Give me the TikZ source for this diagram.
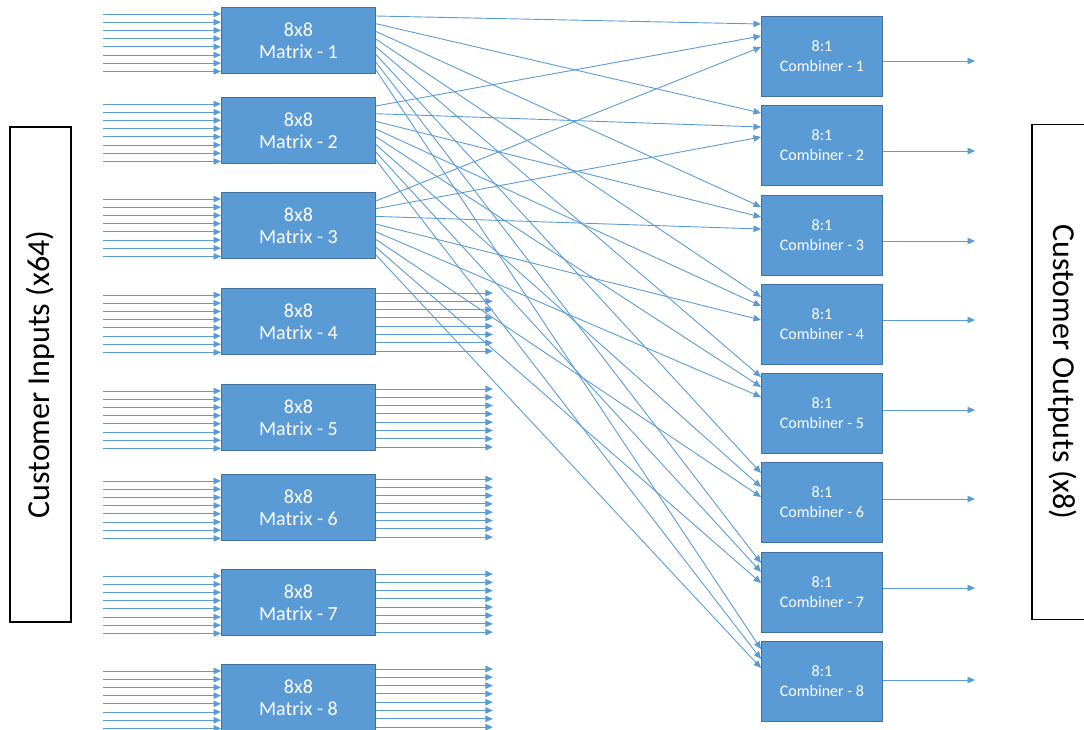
\documentclass[tikz,border=0pt]{standalone}
\usepackage{fontspec}
\setmainfont{Carlito}
\usetikzlibrary{arrows.meta,calc}
\definecolor{boxblue}{HTML}{5B9BD5}
\definecolor{boxedge}{HTML}{41719C}
\tikzset{
  matrixbox/.style={rectangle, fill=boxblue, draw=boxedge, line width=0.9pt, minimum width=154pt, minimum height=66pt, inner sep=0pt, text=white, align=center, font=\fontsize{20}{22}\selectfont, anchor=north west},
  combbox/.style={rectangle, fill=boxblue, draw=boxedge, line width=0.9pt, minimum width=121pt, minimum height=80pt, inner sep=0pt, text=white, align=center, font=\fontsize{16}{20}\selectfont, anchor=north west},
  labelbox/.style={rectangle, draw=black, line width=1.8pt, fill=white, minimum width=495pt, minimum height=61pt, inner sep=0pt, font=\fontsize{32}{38}\selectfont},
  conn/.style={draw=boxblue, line width=0.9pt, -{Triangle[length=7.5pt,width=6.5pt]}}
}
\begin{document}
\begin{tikzpicture}[x=1pt,y=-1pt]
\useasboundingbox (0,0) rectangle (1084,729);
\clip (0,0) rectangle (1084,729);
% side labels
\node[labelbox, rotate=90] (inlab) at (40.5,374.5) {Customer Inputs (x64)};
\node[labelbox, rotate=-90] (outlab) at (1062.5,372) {Customer Outputs (x8)};
% matrices
\foreach \t [count=\m] in {7,97,192,288,384,474,569,664}
  \node[matrixbox] (M\m) at (221,\t) {8x8\\Matrix - \m};
% combiners
\foreach \t [count=\c] in {16,105,195,284,373,462,552,641}
  \node[combbox] (C\c) at (761,\t) {8:1\\Combiner - \c};
% inputs
\foreach \m in {1,...,8}
  \foreach \i in {0,...,7} {
    \coordinate (in\m\i) at ($(M\m.north west)+(-118,{7+8.2*\i})$);
    \draw[conn] (in\m\i) -- (in\m\i -| M\m.west);
  }
% output stubs of matrices 4-8
\foreach \m in {4,...,8}
  \foreach \i in {0,...,7} {
    \coordinate (so\m\i) at ($(M\m.north east)+(117,{5+8.3*\i})$);
    \draw[conn] (so\m\i -| M\m.east) -- (so\m\i);
  }
% matrices 1-3 to combiners
\def\offarr{{8,20,31, 8,22,32, 12,22,34, 13,22,36, 4,14,24, 11,25,35, 11,20,31, 8,18,27}}
\foreach \m in {1,2,3}
  \foreach \i in {1,...,8} {
    \pgfmathtruncatemacro\idx{3*(\i-1)+\m-1}
    \pgfmathsetmacro\off{\offarr[\idx]}
    \draw[conn] ($(M\m.north east)+(0,{9+7.7*(\i-1)})$) -- ($(C\i.north west)+(0,\off)$);
  }
% combiner outputs
\foreach \y [count=\c] in {61,151,241,320,410,499,588,680} {
  \coordinate (out\c) at (975,\y);
  \draw[conn] (out\c -| C\c.east) -- (out\c);
}
\end{tikzpicture}
\end{document}
